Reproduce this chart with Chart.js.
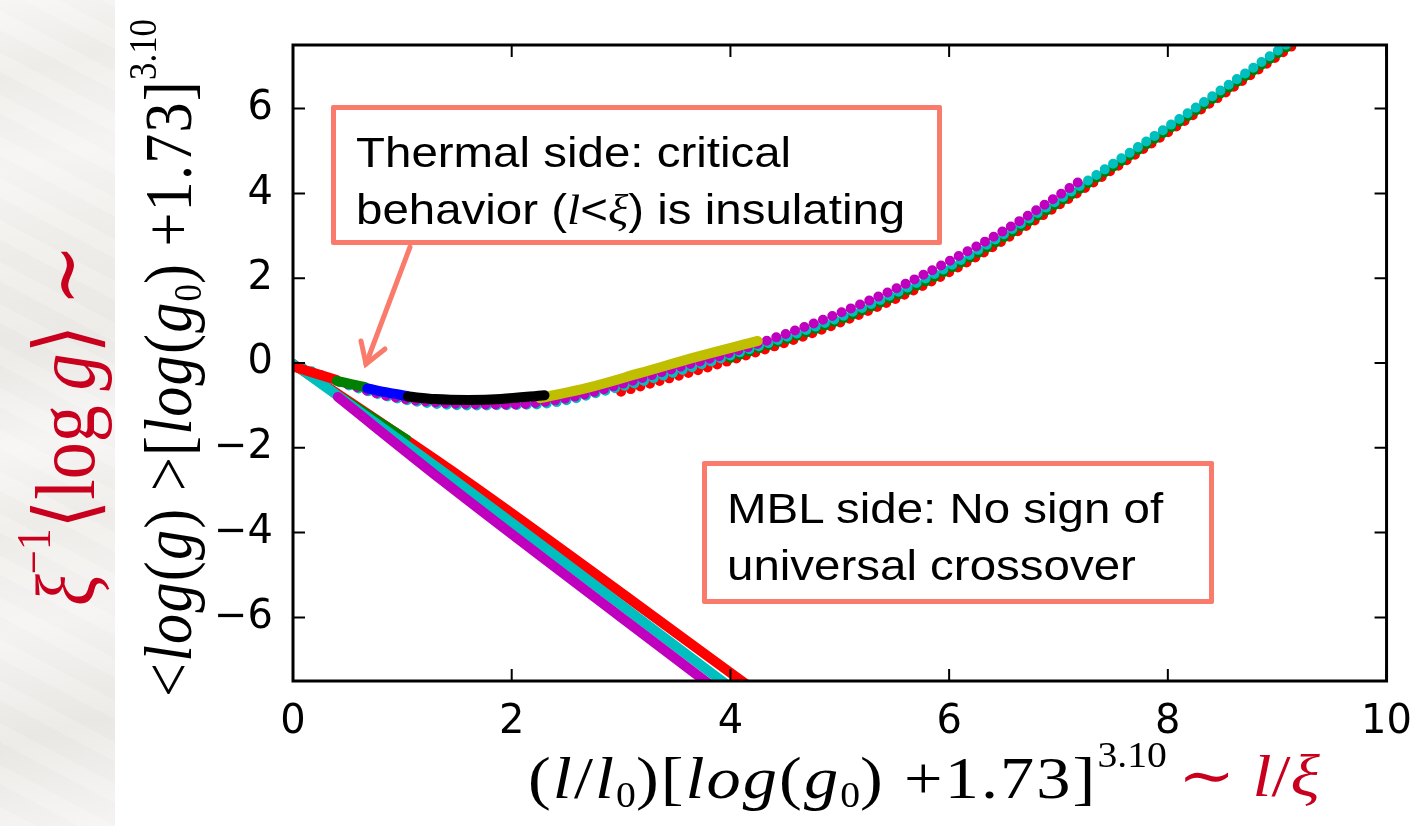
<!DOCTYPE html>
<html>
<head>
<meta charset="utf-8">
<script src="https://cdn.jsdelivr.net/npm/chart.js@4.4.0/dist/chart.umd.min.js"></script>
<style>
  html, body { margin: 0; padding: 0; background: #fff; }
  #wrap { position: relative; width: 1422px; height: 826px; overflow: hidden; background: #fff; }
  #paper {
    position: absolute; left: 0; top: 0; width: 115px; height: 826px;
    background-color: #f0eeeb;
    background-image:
      linear-gradient(165deg, rgba(255,255,255,0.5) 0%, rgba(255,255,255,0) 9%, rgba(255,255,255,0.4) 20%, rgba(255,255,255,0) 31%, rgba(0,0,0,0.015) 42%, rgba(255,255,255,0.45) 53%, rgba(255,255,255,0) 62%, rgba(255,255,255,0.35) 74%, rgba(0,0,0,0.02) 87%, rgba(255,255,255,0.4) 100%),
      repeating-linear-gradient(28deg, rgba(255,255,255,0.12) 0 17px, rgba(0,0,0,0.008) 17px 37px);
  }
  #chart { position: absolute; left: 0; top: 0; }
  .note {
    position: absolute; box-sizing: border-box; background: #fff;
    border: 5px solid #fa7b6b; border-radius: 2px;
    font-family: "Liberation Sans", Arial, sans-serif; font-size: 42px; line-height: 57px; color: #000;
    white-space: nowrap;
  }
  .note span { display: block; transform: scaleX(1.13); transform-origin: 0 0; }
  .tex { font-family: "Liberation Serif", "DejaVu Serif", serif; }
  .title { position: absolute; white-space: nowrap; color: #000; }
  .red { color: #c8001e; }
  .rot { transform: translate(-50%, -50%) scaleX(1.14) rotate(-90deg); }
  .wide { transform: scaleX(1.14); transform-origin: 0 0; }
  sub, sup { font-size: 58%; letter-spacing: 0; }
  sub { vertical-align: -0.25em; }
  sup { vertical-align: 0.9em; }
</style>
</head>
<body>
<div id="wrap">
  <div id="paper"></div>
  <canvas id="chart" width="1422" height="826"></canvas>

  <div class="note" style="left:331px; top:105px; width:611px; height:140px; padding:14px 0 0 20px;">
    <span>Thermal side: critical</span>
    <span>behavior (<i class="tex">l</i>&lt;<i class="tex">ξ</i>) is insulating</span>
  </div>
  <div class="note" style="left:702px; top:461px; width:512px; height:143px; padding:14px 0 0 20px;">
    <span>MBL side: No sign of</span>
    <span>universal crossover</span>
  </div>

  <svg width="1422" height="826" style="position:absolute;left:0;top:0;pointer-events:none">
    <g stroke="#fa7b6b" stroke-width="5" stroke-linecap="round" fill="none">
      <line x1="410" y1="247" x2="366" y2="364"/>
      <polyline points="361,341 366,364 385,349"/>
    </g>
  </svg>

  <div class="title tex wide" style="left:528px; top:736px; font-size:60px; letter-spacing:1.8px;">
    (<i>l</i>/<i>l</i><sub>0</sub>)[<i>log</i>(<i>g</i><sub>0</sub>) +1.73]<sup>3.10</sup>
  </div>
  <div class="title tex wide red" style="left:1178px; top:740px; font-size:60px;">
    ∼ <i>l</i>/<i>ξ</i>
  </div>
  <div class="title tex rot" style="left:166px; top:358px; font-size:60px; letter-spacing:1.3px;">
    &lt;<i>log</i>(<i>g</i>) &gt;[<i>log</i>(<i>g</i><sub>0</sub>) +1.73]<sup>3.10</sup>
  </div>
  <div class="title tex rot red" style="left:60px; top:425px; font-size:74px;">
    <i>ξ</i><sup>−1</sup>⟨log&thinsp;<i>g</i>⟩ ∼
  </div>
</div>

<script>
// axis ticks
const xTickValues = [0, 2, 4, 6, 8, 10];
const yTickValues = [-6, -4, -2, 0, 2, 4, 6];

// thermal branch: short solid pieces near the minimum
const redSegX = [0, 0.2, 0.4];
const redSegY = [-0.08, -0.24, -0.4];
const greenSegX = [0.4, 0.53, 0.66];
const greenSegY = [-0.42, -0.5, -0.57];
const blueSegX = [0.68, 0.87, 1.05];
const blueSegY = [-0.6, -0.7, -0.78];
const blackSegX = [1.05, 1.3, 1.6, 1.9, 2.3];
const blackSegY = [-0.79, -0.85, -0.87, -0.85, -0.76];
const yellowSegX = [2.26, 2.7, 3.17, 3.7, 4.25];
const yellowSegY = [-0.83, -0.58, -0.24, 0.15, 0.52];

// thermal branch: long dotted series
const magentaUpX = [0.5, 0.8, 1.0, 1.3, 1.6, 1.9, 2.2, 2.6, 3.0, 3.5, 4.0, 4.5, 5.0, 5.5, 6.0, 6.5, 7.0, 7.2];
const magentaUpY = [-0.5, -0.74, -0.84, -0.93, -0.97, -0.98, -0.95, -0.78, -0.5, -0.12, 0.24, 0.68, 1.18, 1.74, 2.4, 3.12, 3.95, 4.3];
const cyanUpX = [0, 0.5, 1.0, 1.6, 2.2, 3.0, 4.0, 5.0, 6.0, 7.0, 7.5, 8.0, 8.5, 9.0, 9.4];
const cyanUpY = [-0.02, -0.52, -0.86, -1.0, -0.98, -0.56, 0.18, 1.08, 2.28, 3.85, 4.7, 5.57, 6.46, 7.36, 8.1];
const greenUpX = [4.0, 5.0, 6.0, 7.0, 7.5, 8.0, 8.5, 9.0, 9.4];
const greenUpY = [0.12, 1.02, 2.21, 3.78, 4.63, 5.5, 6.39, 7.29, 8.03];
const redUpX = [3.0, 4.0, 5.0, 6.0, 7.0, 7.5, 8.0, 8.5, 9.0, 9.4];
const redUpY = [-0.68, 0.06, 0.95, 2.14, 3.72, 4.57, 5.44, 6.33, 7.23, 7.95];

// MBL branch: straight descending lines
const magentaMblX = [0.41, 1.37, 3.85];
const magentaMblY = [-0.8, -2.78, -7.66];
const cyanMblX = [0.06, 1.4, 4.0];
const cyanMblY = [-0.12, -2.62, -7.65];
const greenMblX = [0.45, 1.05];
const greenMblY = [-0.78, -1.77];
const redMblX = [0, 1.55, 4.2];
const redMblY = [-0.02, -2.72, -7.68];

const RED = "#ff0000", GREEN = "#008000", BLUE = "#0000ff", BLACK = "#000000",
      YELLOW = "#bfbf00", MAGENTA = "#bf00bf", CYAN = "#00bfbf";

function pts(xs, ys) {
  return xs.map((x, i) => ({ x, y: ys[i] }));
}

function solid(xs, ys, color, width) {
  return {
    data: pts(xs, ys),
    borderColor: color,
    borderWidth: width,
    borderCapStyle: "round",
    cubicInterpolationMode: "monotone",
    showLine: true,
    pointRadius: 0,
  };
}

// round caps on a zero-length dash give a row of dots
function dotted(xs, ys, color) {
  return {
    data: pts(xs, ys),
    borderColor: color,
    borderWidth: 10,
    borderCapStyle: "round",
    borderDash: [0, 10],
    cubicInterpolationMode: "monotone",
    showLine: true,
    pointRadius: 0,
  };
}

// first dataset is drawn on top
const datasets = [
  solid(blackSegX, blackSegY, BLACK, 10),
  solid(blueSegX, blueSegY, BLUE, 10),
  solid(greenSegX, greenSegY, GREEN, 10),
  solid(redSegX, redSegY, RED, 10),
  solid(yellowSegX, yellowSegY, YELLOW, 10),
  dotted(magentaUpX, magentaUpY, MAGENTA),
  dotted(cyanUpX, cyanUpY, CYAN),
  dotted(greenUpX, greenUpY, GREEN),
  dotted(redUpX, redUpY, RED),
  solid(magentaMblX, magentaMblY, MAGENTA, 10),
  solid(cyanMblX, cyanMblY, CYAN, 10),
  solid(greenMblX, greenMblY, GREEN, 6),
  solid(redMblX, redMblY, RED, 10),
];

// black frame with inward ticks on all four sides
const framePlugin = {
  id: "frame",
  afterDatasetsDraw(chart) {
    const { ctx, chartArea: a, scales } = chart;
    const len = 12;
    ctx.save();
    ctx.strokeStyle = "#000";
    ctx.lineWidth = 2;
    ctx.beginPath();
    xTickValues.forEach((v) => {
      const px = scales.x.getPixelForValue(v);
      ctx.moveTo(px, a.bottom); ctx.lineTo(px, a.bottom - len);
      ctx.moveTo(px, a.top); ctx.lineTo(px, a.top + len);
    });
    yTickValues.forEach((v) => {
      const py = scales.y.getPixelForValue(v);
      ctx.moveTo(a.left, py); ctx.lineTo(a.left + len, py);
      ctx.moveTo(a.right, py); ctx.lineTo(a.right - len, py);
    });
    ctx.stroke();
    ctx.lineWidth = 3;
    ctx.strokeRect(a.left, a.top, a.right - a.left, a.bottom - a.top);
    ctx.restore();
  },
};

const tickFont = { family: "'DejaVu Sans', sans-serif", size: 40 };
const minus = (v) => String(v).replace("-", "\u2212");

new Chart(document.getElementById("chart"), {
  type: "scatter",
  data: { datasets },
  plugins: [framePlugin],
  options: {
    responsive: false,
    devicePixelRatio: 1,
    animation: false,
    layout: { padding: { top: 45, right: 30, left: 0, bottom: 0 } },
    plugins: { legend: { display: false }, tooltip: { enabled: false } },
    scales: {
      x: {
        type: "linear",
        min: 0,
        max: 10,
        grid: { display: false },
        border: { display: false },
        afterBuildTicks: (s) => { s.ticks = xTickValues.map((value) => ({ value })); },
        afterFit: (s) => { s.height = 145; },
        ticks: { color: "#000", font: tickFont, padding: 10, maxRotation: 0, callback: minus },
      },
      y: {
        type: "linear",
        min: -7.5,
        max: 7.5,
        grid: { display: false },
        border: { display: false },
        afterBuildTicks: (s) => { s.ticks = yTickValues.map((value) => ({ value })); },
        afterFit: (s) => { s.width = 293; },
        ticks: { color: "#000", font: tickFont, padding: 12, callback: minus },
      },
    },
  },
});
</script>
</body>
</html>
